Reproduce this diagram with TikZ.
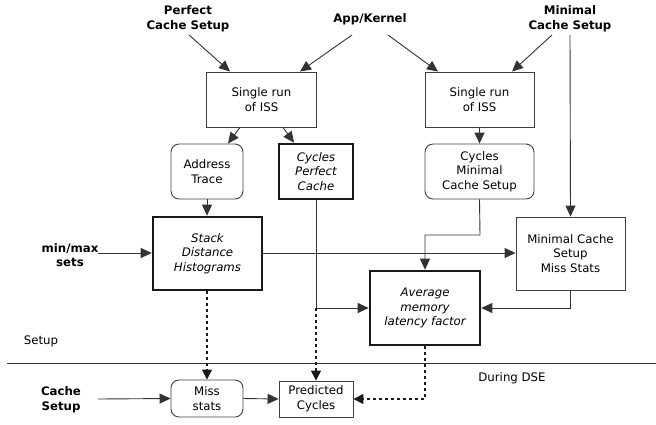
\documentclass[tikz,border=0pt]{standalone}
\usepackage{fontspec}
\setmainfont{DejaVu Sans}
\usetikzlibrary{arrows.meta}
\begin{document}
\begin{tikzpicture}[x=1bp,y=-1bp,
  every node/.style={font=\fontsize{11.8}{14.6}\selectfont, align=center, inner sep=0pt},
  box/.style={draw=black!75, line width=0.9bp, fill=white},
  rbox/.style={box, rounded corners=8bp},
  tbox/.style={draw=black!90, line width=2.6bp, fill=white, font=\fontsize{11.8}{14.6}\selectfont\itshape},
  lbl/.style={font=\fontsize{11.8}{14.6}\selectfont\bfseries},
  conn/.style={draw=black!80, line width=0.9bp, -{Triangle[length=11bp,width=10bp]}},
  plain/.style={draw=black!80, line width=0.9bp},
  dconn/.style={draw=black!90, line width=1.6bp, dash pattern=on 3bp off 3bp, -{Triangle[length=10bp,width=10bp]}}
]
\useasboundingbox (0,0) rectangle (656,424);

% labels
\node[lbl] (pcs) at (188,19) {Perfect\\Cache Setup};
\node[lbl] (ak) at (370,19) {App/Kernel};
\node[lbl] (mcs) at (570,19) {Minimal\\Cache Setup};
\node[lbl] (mm) at (70,255) {min/max\\sets};
\node[lbl] (cs) at (61,400) {Cache\\Setup};
\node (setup) at (41,341) {Setup};
\node (dse) at (512,378) {During DSE};

\coordinate (pcs0) at (189,35);
\coordinate (ak1) at (352,35);
\coordinate (ak2) at (388,35);
\coordinate (mcs1) at (552,35);
\coordinate (mcs2) at (570,35);
\coordinate (mm0) at (98,253);
\coordinate (cs0) at (98,399);

% boxes
\node[box, minimum width=110bp, minimum height=55bp] (iss1) at (261.5,99.5) {Single run\\of ISS};
\node[box, minimum width=109bp, minimum height=55bp] (iss2) at (479.5,99.5) {Single run\\of ISS};
\node[rbox, minimum width=72bp, minimum height=55bp] (at) at (207,171.5) {Address\\Trace};
\node[tbox, minimum width=74bp, minimum height=55bp] (cpc) at (316,171.5) {Cycles\\Perfect\\Cache};
\node[rbox, minimum width=109bp, minimum height=55bp] (cmcs) at (479.5,171.5) {Cycles\\Minimal\\Cache Setup};
\node[tbox, minimum width=109bp, minimum height=73bp] (sdh) at (207.5,253.5) {Stack\\Distance\\Histograms};
\node[box, minimum width=109bp, minimum height=73bp] (mms) at (570.5,253.5) {Minimal Cache\\Setup\\Miss Stats};
\node[tbox, minimum width=110bp, minimum height=74bp] (amlf) at (425,308) {Average\\memory\\latency factor};
\node[rbox, minimum width=72bp, minimum height=37bp] (ms) at (207,398.5) {Miss\\stats};
\node[box, minimum width=74bp, minimum height=36bp] (pc) at (316,399) {Predicted\\Cycles};

% separator
\coordinate (sepL) at (7,363);
\coordinate (sepR) at (656,363);
\draw[plain] (sepL) -- (sepR);

% connectors
\draw[conn] (pcs0) -- (iss1.north -| 230,0);
\draw[conn] (ak1) -- (iss1.north -| 300,0);
\draw[conn] (ak2) -- (iss2.north -| 438,0);
\draw[conn] (mcs1) -- (iss2.north -| 512,0);
\draw[conn] (mcs2) -- (mms.north);
\draw[conn] (iss1.south -| 240,0) -- (at.north -| 228,0);
\draw[conn] (iss1.south -| 283,0) -- (cpc.north -| 294,0);
\draw[conn] (iss2.south) -- (cmcs.north);
\draw[conn] (at.south) -- (sdh.north -| at.south);
\draw[conn] (mm0) -- (sdh.west |- mm0);
\draw[conn] (sdh.east |- mm0) -- (mms.west |- mm0);
\draw[conn] (cmcs.south) -- (480,235) -- (425,235) -- (amlf.north);
\draw[conn] (cpc.south) -- (316,308) -- (amlf.west);
\draw[conn] (mms.south) -- (570.5,308) -- (amlf.east);
\draw[dconn] (316,308) -- (pc.north);
\draw[dconn] (sdh.south -| ms.north) -- (ms.north);
\draw[dconn] (amlf.south) -- (425,399) -- (pc.east);
\draw[conn] (cs0) -- (ms.west);
\draw[conn] (ms.east) -- (pc.west);
\end{tikzpicture}
\end{document}
